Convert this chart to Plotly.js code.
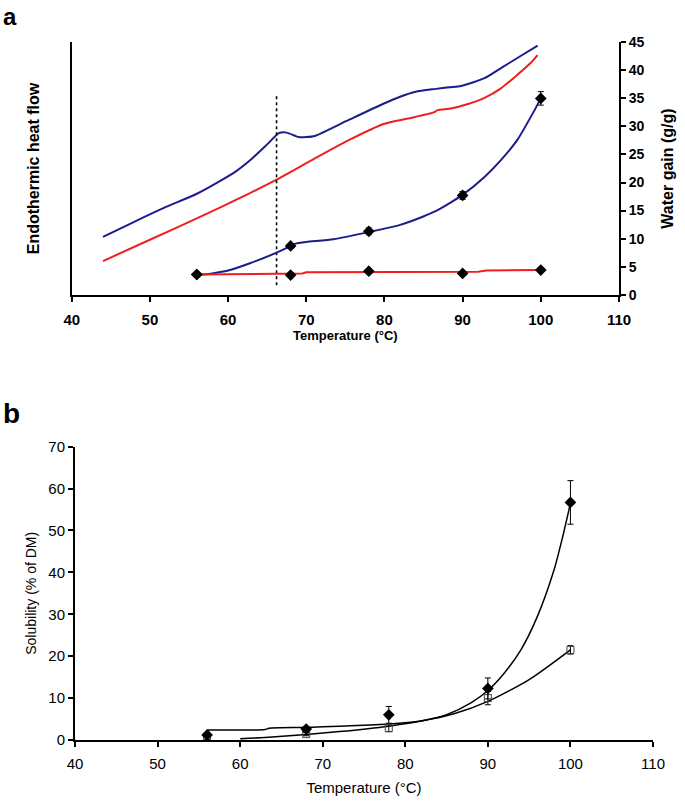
<!DOCTYPE html>
<html><head><meta charset="utf-8">
<script src="https://cdn.plot.ly/plotly-3.0.1.min.js"></script>
<style>html,body{margin:0;padding:0;background:#fff;}#chart{width:685px;height:803px;}</style>
</head><body><div id="chart"></div>
<script>
// ---------- Panel a ----------
// DSC thermograms (arbitrary heat-flow units, drawn against the same 0-45 scale)
const dscBlueT = [44, 48, 52, 56, 59, 61, 63, 65, 66.5, 67.5, 69, 70, 71.1, 75.5, 79.8, 82, 84, 86.6, 88.3, 89.8, 92.8, 94.9, 97, 99.6];
const dscBlueV = [10.3, 13.0, 15.6, 18.0, 20.3, 22.0, 24.2, 26.8, 28.8, 28.9, 28.1, 28.1, 28.3, 31.2, 34.0, 35.3, 36.2, 36.7, 37.0, 37.2, 38.6, 40.4, 42.2, 44.4];
const dscRedT = [44, 50, 56, 62.8, 66.2, 71.1, 75.5, 79.8, 83, 86.3, 86.8, 88.5, 90.7, 92.8, 94.9, 97, 98.7, 99.6];
const dscRedV = [6.0, 9.8, 13.6, 18.1, 20.5, 24.3, 27.6, 30.4, 31.4, 32.5, 32.9, 33.2, 34.0, 35.1, 36.8, 39.2, 41.3, 42.7];
// Water gain curves (g/g)
const wgBlueCurveT = [56, 58, 60, 62.8, 66.2, 68, 68.6, 70, 73.5, 78.1, 81.9, 84.9, 86.4, 88.3, 90, 92.8, 94.9, 97, 99.2, 100];
const wgBlueCurveV = [3.5, 3.8, 4.3, 5.6, 7.5, 8.7, 9.1, 9.4, 9.9, 11.2, 12.4, 13.9, 14.8, 16.3, 17.8, 21.0, 24.0, 27.6, 32.9, 35.0];
const wgRedCurveT = [56, 69.5, 70, 81, 82, 92, 93, 100];
const wgRedCurveV = [3.6, 3.8, 4.0, 4.0, 4.1, 4.1, 4.3, 4.4];
// Water gain measured points
const wgTemps = [56, 68, 78, 90, 100];
const wgBlue = [3.6, 8.7, 11.3, 17.7, 35.0];
const wgBlueErr = [0.3, 0.4, 0.6, 0.7, 1.2];
const wgRed = [3.6, 3.5, 4.2, 3.8, 4.4];
const wgRedErr = [0.2, 0.2, 0.3, 0.3, 0.3];
// Onset marker
const onsetT = [66.2, 66.2];
const onsetV = [1.7, 35.9];

// ---------- Panel b ----------
const solTemps = [56, 68, 78, 90, 100];
const solDiamond = [1.2, 2.6, 6.0, 12.3, 56.7];
const solDiamondErr = [0.4, 0.6, 2.0, 2.5, 5.2];
const solSquare = [0.4, 1.4, 2.8, 10.0, 21.5];
const solSquareErr = [0.3, 0.4, 0.8, 1.6, 1.0];
const fitDiamondT = [60, 63, 68, 72, 78, 82, 85, 88, 90, 92, 94, 96, 98, 99, 100];
const fitDiamondV = [0.3, 0.6, 1.3, 2.0, 3.3, 4.5, 6.0, 8.9, 11.8, 16.0, 21.5, 29.5, 40.5, 48, 56.5];
const fitSquareEdgeT = [56, 56];
const fitSquareEdgeV = [0, 2.4];
const fitSquareT = [56, 63, 63.5, 68, 72, 78, 82, 86, 90, 95, 100];
const fitSquareV = [2.4, 2.5, 2.8, 3.0, 3.3, 3.8, 4.6, 6.3, 9.2, 14.4, 21.5];

const xTicks = [40, 50, 60, 70, 80, 90, 100, 110];
const wgTicks = [0, 5, 10, 15, 20, 25, 30, 35, 40, 45];
const solTicks = [0, 10, 20, 30, 40, 50, 60, 70];

const BLUE = '#1c1c8a', RED = '#f01e1e';
const F = 'Liberation Sans, Arial, sans-serif';

const traces = [
  {x: dscBlueT, y: dscBlueV, xaxis: 'x', yaxis: 'y', mode: 'lines', line: {color: BLUE, width: 2, shape: 'spline', smoothing: 0.6}},
  {x: dscRedT, y: dscRedV, xaxis: 'x', yaxis: 'y', mode: 'lines', line: {color: RED, width: 2, shape: 'spline', smoothing: 0.6}},
  {x: onsetT, y: onsetV, xaxis: 'x', yaxis: 'y', mode: 'lines', line: {color: '#000', width: 1.6, dash: 'dot'}},
  {x: wgBlueCurveT, y: wgBlueCurveV, xaxis: 'x', yaxis: 'y3', mode: 'lines', line: {color: BLUE, width: 2, shape: 'spline', smoothing: 0.6}},
  {x: wgRedCurveT, y: wgRedCurveV, xaxis: 'x', yaxis: 'y3', mode: 'lines', line: {color: RED, width: 2}},
  {x: wgTemps, y: wgBlue, xaxis: 'x', yaxis: 'y3', mode: 'markers', marker: {symbol: 'diamond', size: 9, color: '#000'},
   error_y: {type: 'data', array: wgBlueErr, color: '#000', thickness: 1, width: 3}},
  {x: wgTemps, y: wgRed, xaxis: 'x', yaxis: 'y3', mode: 'markers', marker: {symbol: 'diamond', size: 9, color: '#000'},
   error_y: {type: 'data', array: wgRedErr, color: '#000', thickness: 1, width: 3}},

  {x: fitDiamondT, y: fitDiamondV, xaxis: 'x2', yaxis: 'y2', mode: 'lines', line: {color: '#000', width: 1.5, shape: 'spline', smoothing: 0.7}},
  {x: fitSquareEdgeT, y: fitSquareEdgeV, xaxis: 'x2', yaxis: 'y2', mode: 'lines', line: {color: '#000', width: 1.5}},
  {x: fitSquareT, y: fitSquareV, xaxis: 'x2', yaxis: 'y2', mode: 'lines', line: {color: '#000', width: 1.5, shape: 'spline', smoothing: 0.7}},
  {x: solTemps, y: solSquare, xaxis: 'x2', yaxis: 'y2', mode: 'markers', marker: {symbol: 'square-open', size: 7, color: '#444', line: {width: 1, color: '#444'}},
   error_y: {type: 'data', array: solSquareErr, color: '#000', thickness: 1, width: 3}},
  {x: solTemps, y: solDiamond, xaxis: 'x2', yaxis: 'y2', mode: 'markers', marker: {symbol: 'diamond', size: 9, color: '#000'},
   error_y: {type: 'data', array: solDiamondErr, color: '#000', thickness: 1, width: 3}}
];

const axBase = {showgrid: false, zeroline: false, showline: true, linecolor: '#000', linewidth: 2,
  ticks: 'outside', ticklen: 5, tickwidth: 2, tickcolor: '#000', fixedrange: true};

const layout = {
  width: 685, height: 803, margin: {l: 0, r: 0, t: 0, b: 0},
  paper_bgcolor: '#fff', plot_bgcolor: 'rgba(0,0,0,0)', showlegend: false,
  font: {family: F, color: '#000'},
  xaxis: Object.assign({}, axBase, {domain: [0.1047, 0.9036], anchor: 'y', range: [40, 110], tickvals: xTicks,
    tickfont: {size: 15, weight: 'bold', family: F}, ticklabelstandoff: 5,
    title: {text: 'Temperature (°C)', font: {size: 13, weight: 'bold', family: F}, standoff: 1}}),
  yaxis: Object.assign({}, axBase, {domain: [0.633, 0.9473], anchor: 'x', range: [0, 45], ticks: '', showticklabels: false,
    title: {text: 'Endothermic heat flow', font: {size: 16, weight: 'bold', family: F}, standoff: 26}}),
  yaxis3: Object.assign({}, axBase, {overlaying: 'y', side: 'right', anchor: 'x', range: [0, 45], tickvals: wgTicks,
    tickfont: {size: 14, weight: 'bold', family: F},
    title: {text: 'Water gain (g/g)', font: {size: 16, weight: 'bold', family: F}, standoff: 18}}),
  xaxis2: Object.assign({}, axBase, {domain: [0.1095, 0.9533], anchor: 'y2', range: [40, 110], tickvals: xTicks,
    tickfont: {size: 15, family: F}, ticklabelstandoff: 4,
    title: {text: 'Temperature (°C)', font: {size: 15, family: F}, standoff: 12}}),
  yaxis2: Object.assign({}, axBase, {domain: [0.0785, 0.4437], anchor: 'x2', range: [0, 70], tickvals: solTicks,
    tickfont: {size: 15, family: F},
    title: {text: 'Solubility (% of DM)', font: {size: 14, family: F}, standoff: 8}}),
  annotations: [
    {text: '<b>a</b>', xref: 'paper', yref: 'paper', x: 0.0, y: 1 - 1 / 803, xanchor: 'left', yanchor: 'top', showarrow: false,
     font: {size: 24, family: F}, xshift: 1},
    {text: '<b>b</b>', xref: 'paper', yref: 'paper', x: 0.0, y: 1 - 396 / 803, xanchor: 'left', yanchor: 'top', showarrow: false,
     font: {size: 28, family: F}, xshift: 1}
  ]
};

Plotly.newPlot('chart', traces, layout, {displayModeBar: false, staticPlot: true});
</script>
</body></html>
